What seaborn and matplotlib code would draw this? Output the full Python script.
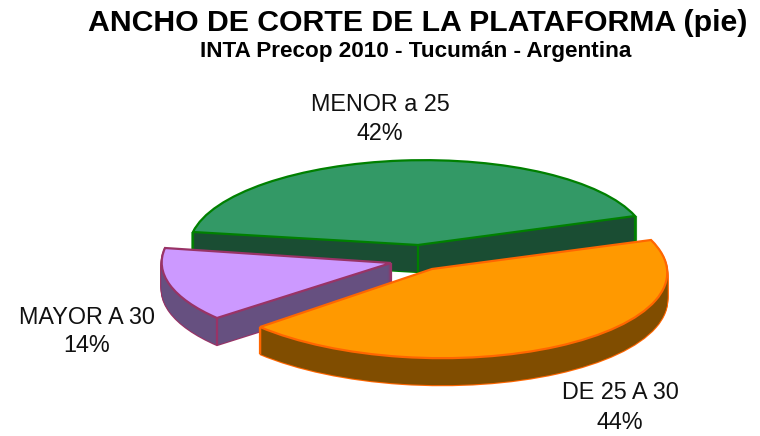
import numpy as np
import pandas as pd
import seaborn as sns
import matplotlib
matplotlib.use("Agg")
import matplotlib.pyplot as plt
from matplotlib.patches import PathPatch
from matplotlib.transforms import Affine2D

categories = ["MENOR a 25", "MAYOR A 30", "DE 25 A 30"]
values = [42, 14, 44]
title = "ANCHO DE CORTE DE LA PLATAFORMA (pie)"
subtitle = "INTA Precop 2010 - Tucumán - Argentina"

top_colors = ["#339966", "#CC99FF", "#FF9900"]
side_colors = ["#1A4D33", "#665080", "#804D00"]
edge_colors = ["#008000", "#993366", "#FF6600"]

sns.set_theme(style="white")
plt.rcParams["font.family"] = ["Liberation Sans", "DejaVu Sans"]

df = pd.DataFrame({"category": categories, "value": values})

fig = plt.figure(figsize=(7.6, 4.36), dpi=100, facecolor="white")
ax = fig.add_axes([0, 0, 1, 1])

wedges, _ = ax.pie(df["value"], startangle=20, counterclock=True,
                   colors=sns.color_palette(top_colors),
                   wedgeprops=dict(edgecolor="none"))
ax.set_aspect("auto")
ax.set_xlim(0, 760)
ax.set_ylim(436, 0)
ax.axis("off")

# Screen anchors of each slice: apex, corner at first angle, corner at second angle
anchors = [
    ((418, 245), (635, 216), (193, 232)),
    ((391, 263), (165, 248), (217, 318)),
    ((432, 269), (260, 327), (651, 240)),
]
depth = 27
lw = 1.6

for i, (w, (apex, p1, p2)) in enumerate(zip(wedges, anchors)):
    a1, a2 = np.radians(w.theta1), np.radians(w.theta2)
    U = np.array([[np.cos(a1), np.cos(a2)], [np.sin(a1), np.sin(a2)]])
    V = np.array([[p1[0] - apex[0], p2[0] - apex[0]],
                  [p1[1] - apex[1], p2[1] - apex[1]]])
    M = V @ np.linalg.inv(U)
    base = Affine2D.from_values(M[0, 0], M[1, 0], M[0, 1], M[1, 1], apex[0], apex[1])
    z = 2 + 3 * i
    path = w.get_path()
    offsets = np.arange(depth, 0, -1)
    for d in offsets:
        ax.add_patch(PathPatch(path, facecolor=edge_colors[i], edgecolor=edge_colors[i],
                               lw=lw, zorder=z, clip_on=False,
                               transform=base + Affine2D().translate(0, d) + ax.transData))
    for d in offsets:
        ax.add_patch(PathPatch(path, facecolor=side_colors[i], edgecolor="none", lw=0,
                               zorder=z + 0.5, clip_on=False,
                               transform=base + Affine2D().translate(0, d) + ax.transData))
    for p in (apex, p1, p2):
        ax.plot([p[0], p[0]], [p[1], p[1] + depth], color=edge_colors[i], lw=lw,
                zorder=z + 0.6, solid_capstyle="butt")
    w.set_transform(base + ax.transData)
    w.set_edgecolor(edge_colors[i])
    w.set_linewidth(lw)
    w.set_zorder(z + 1)

ax.set_xlim(0, 760)
ax.set_ylim(436, 0)

ax.text(418, 23, title, ha="center", va="center", fontsize=21.8, fontweight="bold", color="black", zorder=20)
ax.text(416, 52, subtitle, ha="center", va="center", fontsize=16.2, fontweight="bold", color="black", zorder=20)

label_pos = [(380, 104, 133), (87, 317, 345), (620, 392, 422)]
for cat, val, (x, y1, y2) in zip(df["category"], df["value"], label_pos):
    ax.text(x, y1, cat, ha="center", va="center", fontsize=16.8, color="#111111", zorder=20)
    ax.text(x, y2, f"{val}%", ha="center", va="center", fontsize=16.8, color="#111111", zorder=20)

fig.savefig("out.png", dpi=100, facecolor="white")
